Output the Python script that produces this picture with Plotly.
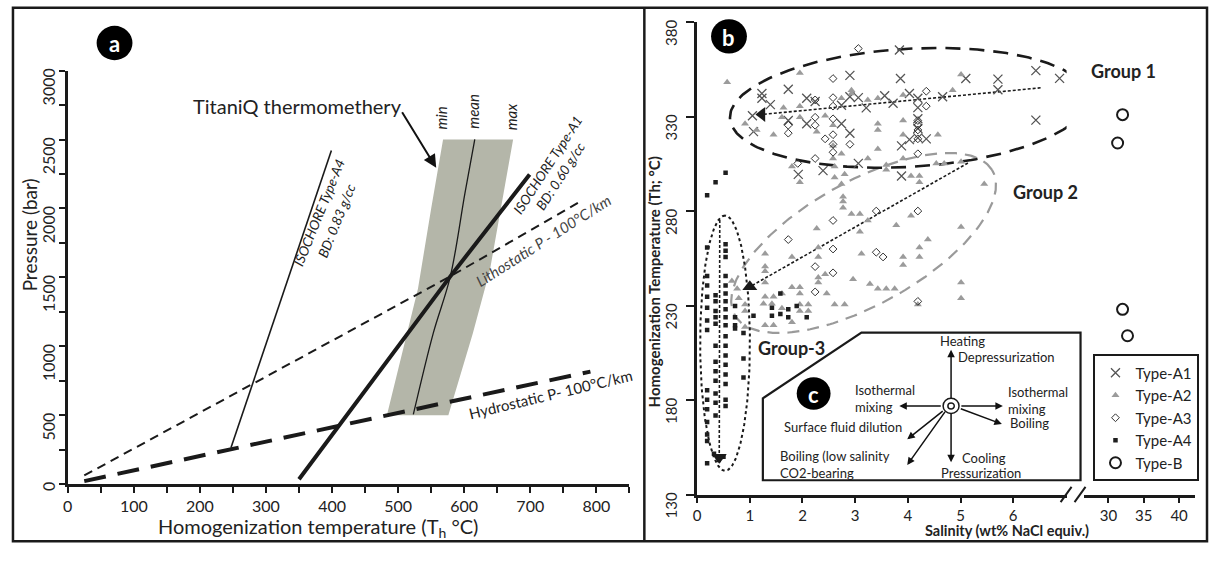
import numpy as np
import plotly.graph_objects as go

W, H = 1209, 569
def px(x): return x / W
def py(y): return 1 - y / H

# ---------------- Panel a data (T in °C, P in bar) ----------------
a4_T = [247, 399];            a4_P = [263, 2420]
a1_T = [350, 579, 699];       a1_P = [35, 1507, 2246]
litho_T = [25, 579, 772];     litho_P = [62, 1507, 2040]
hydro_T = [25, 247, 523, 791]; hydro_P = [21, 255, 540, 816]
mean_T = [523, 553, 579, 601, 616]; mean_P = [505, 1092, 1507, 2108, 2502]
band_left_T = [483, 508, 530, 550, 568];  band_left_P = [500, 1000, 1417, 2000, 2500]
band_right_T = [674, 656, 639, 613, 576]; band_right_P = [2500, 2000, 1555, 1092, 500]
a_xticks = [0, 100, 200, 300, 400, 500, 600, 700, 800]
a_yticks = [0, 500, 1000, 1500, 2000, 2500, 3000]

# ---------------- Panel b data (salinity wt%, Th °C) ----------------
A1 = [(3.84,365.2),(2.90,351.8),(3.86,350.1),(5.10,350.1),(5.71,349.8),(5.71,344.2),(6.43,354.3),
      (6.88,350.2),(6.43,328.1),(1.23,342.2),(1.23,339.7),(1.73,344.4),(1.39,336.3),(1.05,330.4),
      (1.07,322.0),(2.08,339.7),(2.24,338.0),(2.74,336.0),(2.90,340.5),(3.06,340.0),(3.21,334.6),
      (3.56,341.0),(3.72,337.0),(4.03,342.2),(4.19,339.7),(4.66,340.5),(2.08,326.2),(2.74,326.2),
      (2.90,321.2),(3.88,314.5),(4.03,317.8),(4.19,318.7),(4.35,318.2),(3.06,305.2),(2.39,301.4),
      (1.92,299.4),(3.88,298.5),(4.19,334.7),(4.19,328.8),(4.19,323.7),(1.73,327.9)]
A2 = [(0.57,348.1),(1.95,353.1),(5.01,352.3),(2.93,343.9),(2.93,342.2),(3.43,339.7),(3.91,341.4),
      (4.85,343.9),(3.24,338.8),(2.74,339.7),(1.64,334.6),(1.95,335.5),(2.43,330.4),(0.91,326.2),
      (1.13,322.9),(1.45,320.4),(1.61,329.6),(1.95,329.6),(2.27,322.0),(2.58,325.4),(3.43,326.2),
      (3.43,322.9),(3.91,327.9),(3.91,320.4),(4.57,320.4),(2.58,314.5),(3.43,312.8),(2.74,310.3),
      (2.58,307.8),(3.24,307.8),(3.59,304.4),(3.91,307.8),(4.54,305.2),(4.69,305.2),(5.01,306.1),
      (1.80,303.6),(1.95,295.2),(2.61,303.6),(2.61,297.7),(2.80,299.4),(2.74,294.3),(3.59,301.9),
      (4.06,298.5),(4.22,298.5),(4.22,295.2),(5.45,294.3),
      (2.77,287.6),(2.77,285.1),(2.77,281.7),(2.93,278.4),(3.09,278.4),(3.24,275.0),(2.27,270.8),
      (3.09,269.1),(3.78,272.5),(4.06,277.5),(5.01,271.6),(4.38,264.9),(1.29,257.4),(1.80,255.7),
      (2.30,260.7),(2.30,255.7),(3.12,257.4),(4.22,260.7),(4.22,255.7),(3.91,255.7),(3.91,251.4),
      (1.29,250.6),(2.30,244.8),(2.43,246.5),(2.96,243.9),(5.01,242.2),
      (1.29,248.1),(1.29,242.2),(1.80,239.7),(1.95,239.7),(1.95,236.3),(2.30,242.2),(2.46,236.3),
      (3.28,241.4),(3.43,238.9),(3.59,238.9),(3.75,238.9),(5.01,233.8),(4.19,230.5),(1.29,234.6),
      (1.45,234.6),(1.61,236.3),(1.26,231.0),(1.42,231.0),(1.61,228.6),(1.95,230.5),(1.95,227.1),
      (2.11,230.5),(2.11,227.1),(2.61,230.5),(2.80,230.5),(0.91,230.5),(0.91,227.1),(0.66,243.0),
      (0.76,238.9),(0.79,233.8),(0.91,218.7),(1.29,219.6),(1.45,219.6),(1.80,221.2)]
A3 = [(3.06,366.0),(2.58,350.1),(4.35,343.4),(2.24,338.8),(2.58,340.0),(2.58,335.5),(4.35,335.5),
      (2.24,329.6),(2.24,325.4),(1.73,325.4),(1.73,321.2),(2.58,328.8),(2.58,320.4),(2.58,315.3),
      (2.58,311.1),(2.43,318.2),(2.90,315.3),(4.19,327.9),(4.19,325.4),(4.19,322.9),(4.19,318.2),
      (4.19,310.3),(2.24,307.8),(1.91,305.2),(3.40,280.0),(4.19,280.0),(2.58,275.0),(1.73,264.9),
      (2.58,259.9),(2.24,250.6),(3.40,258.2),(3.53,255.7),(2.58,247.3),(2.24,237.2),(4.19,232.2)]
A4 = [(0.54,300.2),(0.35,295.2),(0.19,288.4),(0.19,260.7),(0.54,262.4),(0.54,259.0),(0.54,255.7),
      (0.19,245.6),(0.54,245.6),
      (0.19,240.6),(0.19,234.6),(0.19,228.8),(0.19,222.1),(0.19,217.1),(0.19,185.2),(0.19,180.1),
      (0.19,175.1),(0.19,168.4),(0.19,161.7),(0.19,158.3),(0.19,146.6),
      (0.35,235.5),(0.35,232.2),(0.35,227.1),(0.35,223.8),(0.35,220.4),(0.35,208.7),(0.35,200.3),
      (0.35,195.2),(0.35,190.2),(0.35,183.5),(0.35,178.5),(0.35,171.8),
      (0.54,240.6),(0.54,236.4),(0.54,232.2),(0.54,228.0),(0.54,223.8),(0.54,219.6),(0.54,213.7),
      (0.54,208.7),(0.54,203.6),(0.54,198.6),(0.54,193.5),(0.54,188.5),(0.54,180.1),(0.54,176.8),
      (0.72,229.7),(0.72,223.8),(0.72,219.6),(0.72,217.9),(0.88,215.4),(0.88,202.0),(0.88,191.9),
      (0.32,151.6),(0.50,150.0),(0.41,148.3),
      (1.42,228.8),(1.58,236.4),(1.58,225.5),(1.42,224.6),(1.73,228.0),(1.73,223.8),(1.89,229.7),
      (2.08,223.8),(1.07,224.6)]
TB = [(32.0,331.0),(31.3,316.0),(32.0,228.0),(32.7,214.0)]
b_yticks = [130, 180, 230, 280, 330, 380]
b_xticks_low = [0, 1, 2, 3, 4, 5, 6]
b_xticks_high = [30, 35, 40]

# group envelopes: centre (salinity, Th), semi-axes in px, rotation (deg)
groups = {"g1": (4.02, 334.6, 180, 62, 3.6),
          "g2": (3.16, 263.1, 150, 64, 30.8),
          "g3": (0.53, 210.1, 134, 25, 90.0)}
# trend arrows: tail -> head
trend_tail = [(6.52, 345.2), (5.14, 305.4), (0.43, 275.2)]
trend_head = [(1.23, 331.1), (1.00, 239.9), (0.42, 149.7)]
trend_sym = ["triangle-left", "triangle-up", "triangle-down"]

# ---------------- geometry ----------------
AX = (63, 627); AY = (71, 505)
BX2 = (695, 1066); BX3 = (1083, 1195); BY = (20, 516)
X2MAX = (1066 - 695) / 52.9
X3RANGE = [30 - 25 / 7.1, 40 + 16 / 7.1]
KX = (BX2[1] - BX2[0]) / X2MAX
KY = (BY[1] - BY[0]) / 250.0

def ellipse(cs, cT, a, b, ang):
    t = np.linspace(0, 2 * np.pi, 240)
    u, v = a * np.cos(t), b * np.sin(t)
    th = np.radians(ang)
    dx = u * np.cos(th) - v * np.sin(th)
    dy = u * np.sin(th) + v * np.cos(th)
    return cs + dx / KX, cT + dy / KY

INK = "#1a1a1a"
fig = go.Figure()

# ---- panel a ----
fig.add_trace(go.Scatter(x=band_left_T + band_right_T, y=band_left_P + band_right_P, fill="toself",
                         fillcolor="#b4b6a9", line=dict(width=0), mode="lines", showlegend=False,
                         hoverinfo="skip", xaxis="x", yaxis="y"))
fig.add_trace(go.Scatter(x=mean_T, y=mean_P, mode="lines", line=dict(color=INK, width=1.3, shape="spline"),
                         showlegend=False, xaxis="x", yaxis="y"))
fig.add_trace(go.Scatter(x=litho_T, y=litho_P, mode="lines", line=dict(color=INK, width=2, dash="9px,6px"),
                         showlegend=False, xaxis="x", yaxis="y"))
fig.add_trace(go.Scatter(x=hydro_T, y=hydro_P, mode="lines", line=dict(color=INK, width=4, dash="22px,12px"),
                         showlegend=False, xaxis="x", yaxis="y"))
fig.add_trace(go.Scatter(x=a4_T, y=a4_P, mode="lines", line=dict(color=INK, width=1.6),
                         showlegend=False, xaxis="x", yaxis="y"))
fig.add_trace(go.Scatter(x=a1_T, y=a1_P, mode="lines", line=dict(color=INK, width=4),
                         showlegend=False, xaxis="x", yaxis="y"))

# ---- panel b: envelopes and trends ----
ex, ey = ellipse(*groups["g2"])
fig.add_trace(go.Scatter(x=ex, y=ey, mode="lines", line=dict(color="#9a9a9a", width=2.2, dash="12px,8px"),
                         showlegend=False, hoverinfo="skip", xaxis="x2", yaxis="y2"))
ex, ey = ellipse(*groups["g1"])
fig.add_trace(go.Scatter(x=ex, y=ey, mode="lines", line=dict(color=INK, width=2.6, dash="15px,9px"),
                         showlegend=False, hoverinfo="skip", xaxis="x2", yaxis="y2"))
ex, ey = ellipse(*groups["g3"])
fig.add_trace(go.Scatter(x=ex, y=ey, mode="lines", line=dict(color=INK, width=2, dash="3px,3px"),
                         showlegend=False, hoverinfo="skip", xaxis="x2", yaxis="y2"))
for (ts, tt), (hs, ht) in zip(trend_tail, trend_head):
    fig.add_trace(go.Scatter(x=[ts, hs], y=[tt, ht], mode="lines", line=dict(color=INK, width=1.6, dash="3px,2px"),
                             showlegend=False, hoverinfo="skip", xaxis="x2", yaxis="y2"))

# ---- panel b: data ----
def xs(d): return [p[0] for p in d]
def ys(d): return [p[1] for p in d]
fig.add_trace(go.Scatter(x=xs(A1), y=ys(A1), mode="markers", name="Type-A1",
                         marker=dict(symbol="x-thin-open", size=9, line=dict(color="#555", width=1.3), color="#555"),
                         xaxis="x2", yaxis="y2"))
fig.add_trace(go.Scatter(x=xs(A2), y=ys(A2), mode="markers", name="Type-A2",
                         marker=dict(symbol="triangle-up", size=7, color="#9b9b9b"), xaxis="x2", yaxis="y2"))
fig.add_trace(go.Scatter(x=xs(A3), y=ys(A3), mode="markers", name="Type-A3",
                         marker=dict(symbol="diamond-open", size=6, line=dict(color="#333", width=1), color="#333"),
                         xaxis="x2", yaxis="y2"))
fig.add_trace(go.Scatter(x=xs(A4), y=ys(A4), mode="markers", name="Type-A4",
                         marker=dict(symbol="square", size=4.5, color="#1e1e1e"), xaxis="x2", yaxis="y2"))
fig.add_trace(go.Scatter(x=xs(TB), y=ys(TB), mode="markers", name="Type-B",
                         marker=dict(symbol="circle-open", size=11, line=dict(color=INK, width=2), color=INK),
                         xaxis="x3", yaxis="y2"))
fig.add_trace(go.Scatter(x=[h[0] for h in trend_head], y=[h[1] for h in trend_head], mode="markers",
                         marker=dict(symbol=trend_sym, size=13, color=INK), showlegend=False,
                         hoverinfo="skip", xaxis="x2", yaxis="y2"))

# ---------------- annotations ----------------
anns = []
def T(x, y, text, size=13, angle=0, xa="center", color="#222", align="center", family="Lato"):
    anns.append(dict(x=px(x), y=py(y), xref="paper", yref="paper", text=text, showarrow=False,
                     font=dict(size=size, color=color, family=family), textangle=angle,
                     xanchor=xa, yanchor="middle", align=align))
def arrow(hx, hy, tx, ty, width=1.5, size=1.0, head=2, sstand=0):
    anns.append(dict(x=px(hx), y=py(hy), xref="paper", yref="paper", ax=tx - hx, ay=ty - hy,
                     text="", showarrow=True, arrowhead=head, arrowsize=size, arrowwidth=width,
                     arrowcolor="#111", startstandoff=sstand))

# panel a texts
T(314, 551, "Homogenization temperature (T<sub>h</sub> °C)", size=20)
T(25, 243, "Pressure (bar)", size=19, angle=-90)
T(294, 108, "TitaniQ thermomethery", size=20)
arrow(433, 173, 398, 116, width=2, size=1.3)
T(438, 121, "<i>min</i>", size=15, angle=-90)
T(470, 114, "<i>mean</i>", size=15, angle=-90)
T(508, 120, "<i>max</i>", size=15, angle=-90)
T(315, 220, "<i>ISOCHORE Type-A4</i>", size=13.5, angle=-68)
T(333, 229, "<i>BD: 0.83 g/cc</i>", size=13.5, angle=-68)
T(545, 170, "<i>ISOCHORE Type-A1</i>", size=13.5, angle=-57)
T(558, 182, "<i>BD: 0.60 g/cc</i>", size=13.5, angle=-57)
T(541, 249, "<i>Lithostatic P - 100°C/km</i>", size=15, angle=-32.5, color="#444")
T(548, 411, "Hydrostatic P- 100°C/km", size=15, angle=-13.5)

# panel b texts
T(1006, 554, "<b>Salinity (wt% NaCl equiv.)</b>", size=14.5)
T(652, 293, "<b>Homogenization Temperature (Th; °C)</b>", size=15, angle=-90)
T(1123, 71, "<b>Group 1</b>", size=18)
T(1045, 198, "<b>Group 2</b>", size=18)
T(790, 362, "<b>Group-3</b>", size=18)

# inset c
cx, cy = 950, 423
T(961, 355, "Heating", size=13)
T(955, 372, "Depressurization", size=13, xa="left")
T(852, 415, "Isothermal<br>mixing", size=13, xa="left", align="left")
T(1005, 417, "Isothermal<br>mixing", size=13, xa="left", align="left")
T(1007, 441, "Boiling", size=13, xa="left")
T(903, 445, "Surface fluid dilution", size=13, xa="right")
T(776, 485, "Boiling (low salinity<br>CO2-bearing", size=13, xa="left", align="left")
T(959, 478, "Cooling", size=13, xa="left")
T(938, 493, "Pressurization", size=13, xa="left")
for hx, hy in [(950, 364), (898, 423), (1002, 423), (1001, 442), (950, 482), (906, 458), (906, 485)]:
    arrow(hx, hy, cx, cy, width=1.5, size=1.0, sstand=9)

# panel labels
for lx, ly, lt in [(110, 42, "a"), (727, 35, "b"), (812, 410, "c")]:
    T(lx, ly + 1, "<b>%s</b>" % lt, size=22, color="white")

# ---------------- shapes ----------------
shapes = []
def line(x0, y0, x1, y1, w=2.5, color=INK):
    shapes.append(dict(type="line", xref="paper", yref="paper", x0=px(x0), y0=py(y0), x1=px(x1), y1=py(y1),
                       line=dict(color=color, width=w)))
shapes.append(dict(type="rect", xref="paper", yref="paper", x0=px(8), y0=py(565), x1=px(1207), y1=py(5),
                   line=dict(color=INK, width=2.5)))
line(642, 5, 642, 565)
line(1060, 524, 1071, 508, w=2)
line(1074, 524, 1085, 508, w=2)
poly = [(761, 501), (1080, 501), (1080, 346), (860, 346), (761, 415)]
path = "M " + " L ".join("%.5f,%.5f" % (px(a), py(b)) for a, b in poly) + " Z"
shapes.append(dict(type="path", xref="paper", yref="paper", path=path, line=dict(color=INK, width=2.2)))
def circ(x, y, r, fill, w=0, lc=INK):
    shapes.append(dict(type="circle", xref="paper", yref="paper", x0=px(x - r), x1=px(x + r),
                       y0=py(y + r), y1=py(y - r), fillcolor=fill, line=dict(color=lc, width=w)))
circ(110, 42, 18, "black")
circ(727, 35, 18, "black")
circ(812, 410, 17, "black")
circ(cx, cy, 8, "white", w=1.5)
circ(cx, cy, 3.2, "white", w=1.5)

# ---------------- axes ----------------
axcommon = dict(showline=True, linewidth=2.5, linecolor=INK, ticks="outside", tickwidth=2, tickcolor=INK,
                showgrid=False, zeroline=False)
fig.update_layout(
    width=W, height=H, autosize=False, margin=dict(l=0, r=0, t=0, b=0),
    paper_bgcolor="white", plot_bgcolor="rgba(0,0,0,0)",
    font=dict(family="Lato", color="#222"),
    xaxis=dict(domain=[px(AX[0]), px(AX[1])], range=[0, 850], anchor="y", tickvals=a_xticks, ticklen=6,
               minor=dict(dtick=50, ticks="outside", ticklen=6, tickwidth=2, tickcolor=INK),
               tickfont=dict(size=16), **axcommon),
    yaxis=dict(domain=[py(AY[1]), py(AY[0])], range=[0, 3000], anchor="x", tickvals=a_yticks, ticklen=6,
               tickangle=-89.9, ticklabelstandoff=9,
               minor=dict(dtick=250, ticks="outside", ticklen=6, tickwidth=2, tickcolor=INK),
               tickfont=dict(size=16), **axcommon),
    xaxis2=dict(domain=[px(BX2[0]), px(BX2[1])], range=[0, X2MAX], anchor="y2",
                tickvals=b_xticks_low, ticklen=6, tickfont=dict(size=15), **axcommon),
    xaxis3=dict(domain=[px(BX3[0]), px(BX3[1])], range=X3RANGE, anchor="y2",
                tickvals=b_xticks_high, ticklen=6, tickfont=dict(size=15), **axcommon),
    yaxis2=dict(domain=[py(BY[1]), py(BY[0])], range=[130, 380], anchor="x2", tickvals=b_yticks, ticklen=8,
                tickangle=-89.9, ticklabelstandoff=14, tickfont=dict(size=15), **axcommon),
    legend=dict(x=px(1093), y=py(369), xanchor="left", yanchor="top", bordercolor=INK, borderwidth=2,
                bgcolor="white", font=dict(size=15, family="Lato"), itemwidth=30, tracegroupgap=0),
    annotations=anns, shapes=shapes,
)
fig.write_html("out.html")
